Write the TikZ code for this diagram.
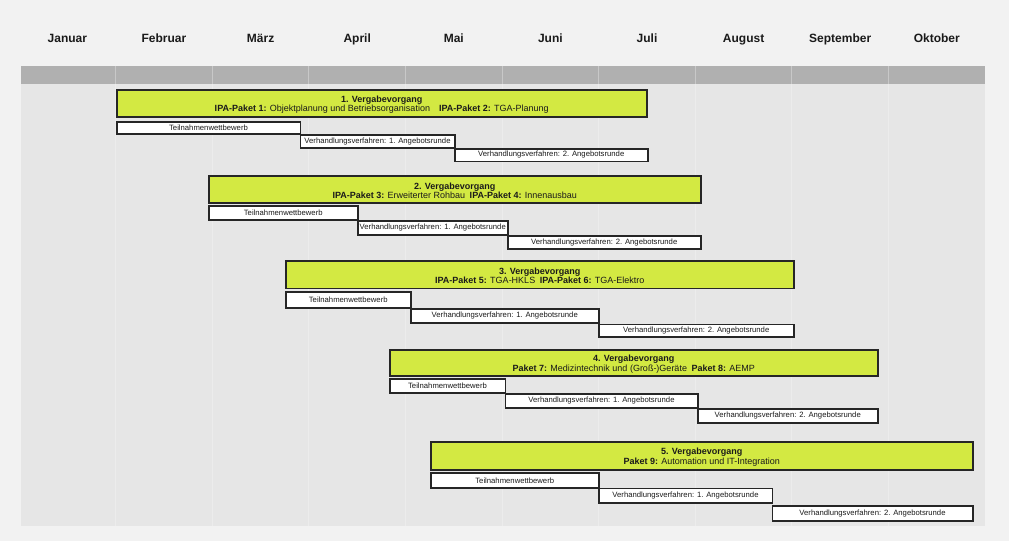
\documentclass[tikz,border=0pt]{standalone}
\usepackage{fontspec}
\setmainfont{Liberation Sans}
\definecolor{bgcol}{HTML}{F2F2F2}
\definecolor{chartcol}{HTML}{E6E6E6}
\definecolor{headcol}{HTML}{B0B0B0}
\definecolor{headline}{HTML}{C8C8C8}
\definecolor{gridcol}{HTML}{ECECEC}
\definecolor{limecol}{HTML}{D3E942}
\definecolor{framecol}{HTML}{262626}
\definecolor{textcol}{HTML}{1A1A1A}
\newcommand{\toprule}{\rule{0pt}{9.5pt}}

\begin{document}
\begin{tikzpicture}[x=1pt,y=-1pt,
    month/.style={font=\fontsize{12}{14}\selectfont\bfseries, text=textcol, anchor=base},
    vorgang/.style={draw=framecol, line width=1.5pt, fill=limecol, anchor=north west, inner sep=0pt, align=center, font=\fontsize{9}{9.5}\selectfont, text=textcol},
    phase/.style={draw=framecol, line width=1.5pt, fill=white, anchor=north west, inner sep=0pt, font=\fontsize{7.7}{8}\selectfont, text=textcol}]
    \useasboundingbox[fill=bgcol] (0,0) rectangle (1009,541); % page
    \fill[chartcol] (21,84) rectangle (985,526); % chart area
    \fill[headcol] (21,66) rectangle (985,84); % header bar
    \foreach \i in {1,...,9} {
        \draw[headline, line width=1pt] ({115.7+96.6*(\i-1)},66) -- ++(0,18);
        \draw[gridcol, line width=1pt] ({115.7+96.6*(\i-1)},84) -- ++(0,442);
    }
    \foreach \m [count=\i] in {Januar,Februar,März,April,Mai,Juni,Juli,August,September,Oktober}
        \node[month] (m\i) at ({115.7+96.6*(\i-1.5)},42.5) {\m}; % month labels

    % 1. Vergabevorgang
    \node[vorgang, minimum width=530pt, minimum height=27pt] (v1) at (116,89) {\toprule\textbf{1. Vergabevorgang}\\\textbf{IPA-Paket 1:} Objektplanung und Betriebsorganisation\quad\textbf{IPA-Paket 2:} TGA-Planung};
    \node[phase, minimum width=183.5pt, minimum height=12pt] (t1) at (116,121) {Teilnahmenwettbewerb};
    \node[phase, minimum width=154.5pt, minimum height=13pt] (a1) at (299.5,134) {Verhandlungsverfahren: 1. Angebotsrunde};
    \node[phase, minimum width=193pt, minimum height=12.5pt] (b1) at (454,148) {Verhandlungsverfahren: 2. Angebotsrunde};

    % 2. Vergabevorgang
    \node[vorgang, minimum width=492pt, minimum height=27pt] (v2) at (208,175) {\toprule\textbf{2. Vergabevorgang}\\\textbf{IPA-Paket 3:} Erweiterter Rohbau\enspace\textbf{IPA-Paket 4:} Innenausbau};
    \node[phase, minimum width=149pt, minimum height=14pt] (t2) at (208,205) {Teilnahmenwettbewerb};
    \node[phase, minimum width=150pt, minimum height=14pt] (a2) at (357,220) {Verhandlungsverfahren: 1. Angebotsrunde};
    \node[phase, minimum width=193pt, minimum height=13pt] (b2) at (507,235) {Verhandlungsverfahren: 2. Angebotsrunde};

    % 3. Vergabevorgang
    \node[vorgang, minimum width=508pt, minimum height=27.5pt] (v3) at (285,260) {\toprule\textbf{3. Vergabevorgang}\\\textbf{IPA-Paket 5:} TGA-HKLS\enspace\textbf{IPA-Paket 6:} TGA-Elektro};
    \node[phase, minimum width=125pt, minimum height=16pt] (t3) at (285,291) {Teilnahmenwettbewerb};
    \node[phase, minimum width=188pt, minimum height=14pt] (a3) at (410,308) {Verhandlungsverfahren: 1. Angebotsrunde};
    \node[phase, minimum width=195pt, minimum height=12.5pt] (b3) at (598,323.5) {Verhandlungsverfahren: 2. Angebotsrunde};

    % 4. Vergabevorgang
    \node[vorgang, minimum width=488pt, minimum height=26pt] (v4) at (389,349) {\toprule\textbf{4. Vergabevorgang}\\\textbf{Paket 7:} Medizintechnik und (Groß-)Geräte\enspace\textbf{Paket 8:} AEMP};
    \node[phase, minimum width=115.5pt, minimum height=14pt] (t4) at (389,378) {Teilnahmenwettbewerb};
    \node[phase, minimum width=192.5pt, minimum height=14pt] (a4) at (504.5,393) {Verhandlungsverfahren: 1. Angebotsrunde};
    \node[phase, minimum width=180pt, minimum height=14pt] (b4) at (697,408) {Verhandlungsverfahren: 2. Angebotsrunde};

    % 5. Vergabevorgang
    \node[vorgang, minimum width=542pt, minimum height=28pt] (v5) at (430,441) {\toprule\textbf{5. Vergabevorgang}\\\textbf{Paket 9:} Automation und IT-Integration};
    \node[phase, minimum width=168pt, minimum height=15pt] (t5) at (430,472) {Teilnahmenwettbewerb};
    \node[phase, minimum width=173.5pt, minimum height=14.5pt] (a5) at (598,487.5) {Verhandlungsverfahren: 1. Angebotsrunde};
    \node[phase, minimum width=200.5pt, minimum height=15pt] (b5) at (771.5,505) {Verhandlungsverfahren: 2. Angebotsrunde};
\end{tikzpicture}
\end{document}
